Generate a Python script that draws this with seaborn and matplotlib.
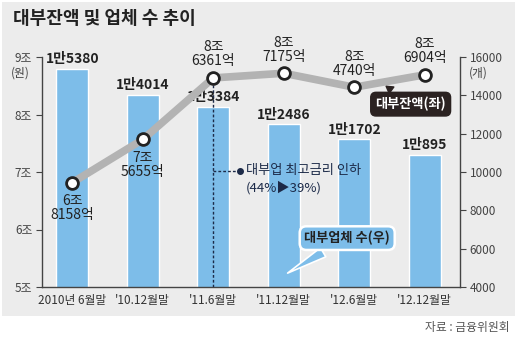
import numpy as np
import matplotlib
matplotlib.use("Agg")
import matplotlib.pyplot as plt
import seaborn as sns
from matplotlib.patches import Rectangle

sns.set_style("white")
plt.rcParams['font.family'] = ['Noto Sans CJK KR', 'DejaVu Sans']

categories = ['2010년 6월말', "'10.12월말", "'11.6월말", "'11.12월말", "'12.6월말", "'12.12월말"]
counts = [15380, 14014, 13384, 12486, 11702, 10895]
count_labels = ['1만5380', '1만4014', '1만3384', '1만2486', '1만1702', '1만895']
balance = [6.8158, 7.5655, 8.6361, 8.7175, 8.4740, 8.6904]
balance_labels = ['6조\n8158억', '7조\n5655억', '8조\n6361억', '8조\n7175억', '8조\n4740억', '8조\n6904억']
left_ticks = [5, 6, 7, 8, 9]
left_ticklabels = ['5조', '6조', '7조', '8조', '9조']
right_ticks = [4000, 6000, 8000, 10000, 12000, 14000, 16000]

BAR = '#7dbde9'
DARK = '#222222'
NAVY = '#1c2a48'
BG = '#ececec'

fig = plt.figure(figsize=(5.2, 3.47), dpi=100)
fig.patch.set_facecolor('white')
fig.patches.append(Rectangle((0.004, 0.089), 0.986, 0.905, transform=fig.transFigure,
                             facecolor=BG, edgecolor='none', zorder=-10))

ax = fig.add_axes([42/520, 1-287/347, (460-42)/520, (287-57)/347])
ax.set_facecolor('none')
sns.barplot(x=categories, y=counts, ax=ax, color=BAR, width=0.45, saturation=1)
ax2 = ax.twinx()
ax2.set_facecolor('none')

ax.set_ylim(4000, 16000)
ax.set_xlim(-0.43, 5.5)
ax.yaxis.tick_right()
ax.yaxis.set_label_position('right')
ax.set_yticks(right_ticks)
ax.set_yticklabels([str(t) for t in right_ticks])
ax.set_ylabel('')
ax.set_xlabel('')
ax.tick_params(axis='y', direction='out', length=4, width=0.8, color='#444', labelsize=8.5, labelcolor='#444', pad=3)
ax.tick_params(axis='x', length=0, labelsize=8.5, labelcolor='#333', pad=5)
for s in ['top', 'left']:
    ax.spines[s].set_visible(False)
for s in ['right', 'bottom']:
    ax.spines[s].set_visible(True)
    ax.spines[s].set_color('#444')
    ax.spines[s].set_linewidth(1.0)

for i, (v, lab) in enumerate(zip(counts, count_labels)):
    ax.annotate(lab, (i, v), xytext=(0, 2), textcoords='offset points', ha='center', va='bottom',
                fontsize=10, fontweight='bold', color=DARK)

pos = np.arange(len(categories))
sns.lineplot(x=pos, y=balance, ax=ax2, color='#b3b3b3', linewidth=5.5, marker='o', markersize=8.5,
             markerfacecolor='white', markeredgecolor=DARK, markeredgewidth=2.0, zorder=5)
ax2.set_ylim(5, 9)
ax2.set_xlim(-0.43, 5.5)
ax2.yaxis.tick_left()
ax2.yaxis.set_label_position('left')
ax2.set_yticks(left_ticks)
ax2.set_yticklabels(left_ticklabels)
ax2.set_ylabel('')
ax2.tick_params(axis='y', direction='out', length=4, width=0.8, color='#444', labelsize=8.5, labelcolor='#444', pad=3)
for s in ['top', 'right', 'bottom']:
    ax2.spines[s].set_visible(False)
ax2.spines['left'].set_visible(True)
ax2.spines['left'].set_color('#444')
ax2.spines['left'].set_linewidth(1.0)

below = [True, True, False, False, False, False]
for i, (v, lab, b) in enumerate(zip(balance, balance_labels, below)):
    if b:
        ax2.annotate(lab, (i, v), xytext=(0, -8), textcoords='offset points', ha='center', va='top',
                     fontsize=10, fontweight='medium', color=DARK, linespacing=1.0, zorder=6)
    else:
        ax2.annotate(lab, (i, v), xytext=(0, 7), textcoords='offset points', ha='center', va='bottom',
                     fontsize=10, fontweight='medium', color=DARK, linespacing=1.0, zorder=6,
                     annotation_clip=False)

# rate cut annotation
ax2.plot([2, 2], [5, balance[2]], linestyle=(0, (2, 1.5)), color=NAVY, linewidth=1.0, zorder=4)
ax2.plot([2, 2.38], [7.02, 7.02], linestyle=(0, (2, 1.5)), color=NAVY, linewidth=1.0, zorder=4)
ax2.plot([2.38], [7.02], marker='o', markersize=4, color=NAVY, zorder=4)
ax2.text(2.46, 7.02, '대부업 최고금리 인하', fontsize=9.5, fontweight='medium', color=NAVY, va='center', ha='left')
ax2.text(2.46, 6.72, '(44%▶39%)', fontsize=9.5, fontweight='medium', color=NAVY, va='center', ha='left')

# callouts
ax.annotate('대부업체 수(우)', xy=(3.02, 4650), xytext=(3.9, 6550), textcoords='data',
            ha='center', va='center', fontsize=9.5, fontweight='bold', color=DARK, zorder=3,
            bbox=dict(boxstyle='round,pad=0.35,rounding_size=0.5', fc=BAR, ec='white', lw=1.8),
            arrowprops=dict(arrowstyle='wedge,tail_width=0.8,shrink_factor=0.5', fc=BAR, ec='white', lw=1.2))
ax2.annotate('대부잔액(좌)', xy=(4.42, 8.52), xytext=(4.8, 8.18), textcoords='data',
             ha='center', va='center', fontsize=9.5, fontweight='bold', color='white', zorder=7,
             bbox=dict(boxstyle='round,pad=0.35,rounding_size=0.4', fc='#2b2221', ec='#2b2221', lw=1),
             arrowprops=dict(arrowstyle='wedge,tail_width=0.6,shrink_factor=0.5', fc='#2b2221', ec='#2b2221'))

fig.text(20/520, 1-73/347, '(원)', fontsize=8.5, color='#444', ha='center', va='center')
fig.text(478/520, 1-73/347, '(개)', fontsize=8.5, color='#444', ha='center', va='center')
fig.text(13/520, 1-18/347, '대부잔액 및 업체 수 추이', fontsize=13, fontweight='bold', color=DARK,
         ha='left', va='center')
fig.text(510/520, 1-327/347, '자료 : 금융위원회', fontsize=8.5, color='#555', ha='right', va='center')

fig.savefig('out.png', dpi=100, facecolor=fig.get_facecolor())
